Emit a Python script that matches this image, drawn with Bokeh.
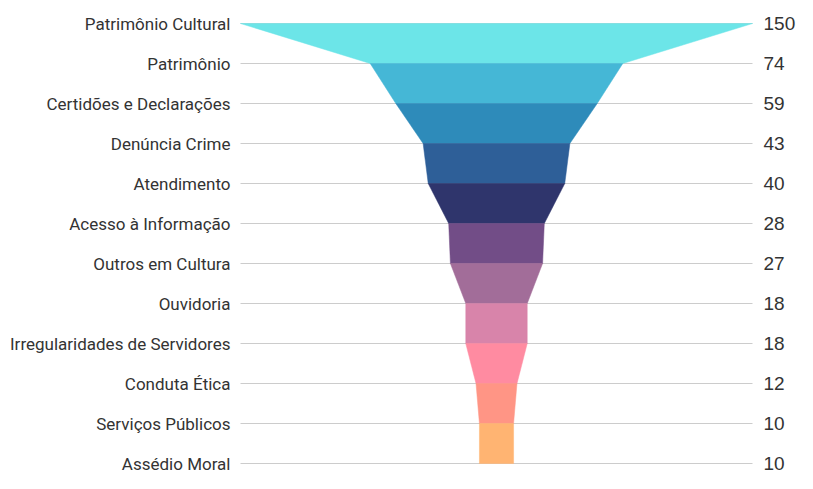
from bokeh.plotting import figure
from bokeh.models import Range1d, ColumnDataSource
from bokeh.core.properties import value
from bokeh.embed import file_html
from bokeh.resources import INLINE

categories = ["Patrimônio Cultural", "Patrimônio", "Certidões e Declarações", "Denúncia Crime",
              "Atendimento", "Acesso à Informação", "Outros em Cultura", "Ouvidoria",
              "Irregularidades de Servidores", "Conduta Ética", "Serviços Públicos", "Assédio Moral"]
values = [150, 74, 59, 43, 40, 28, 27, 18, 18, 12, 10, 10]
colors = ["#6ce5e8", "#45b7d6", "#2e8bba", "#2e5f98", "#2f356c", "#724d87",
          "#a26d99", "#d884aa", "#ff8ba1", "#ff9585", "#ffb472"]

W, H = 797, 473
vmax = max(values)
half_px = 256.0
center_px = 496.0
ppu = 2 * half_px / vmax
top_px, bot_px = 23.0, 463.0
n = len(categories)
row_px = (bot_px - top_px) / (n - 1)

p = figure(width=W, height=H, output_backend="svg", toolbar_location=None,
           x_axis_location=None, y_axis_location=None, min_border=0,
           x_range=Range1d(-center_px / ppu, (W - center_px) / ppu),
           y_range=Range1d((n - 1) + (H - bot_px) / row_px, -top_px / row_px))
p.grid.visible = False
p.outline_line_color = None
p.background_fill_color = "white"

rows = list(range(n))
p.segment(x0=[-vmax / 2] * n, x1=[vmax / 2] * n, y0=rows, y1=rows,
          line_color="#cccccc", line_width=1)

xs, ys = [], []
for i in range(n - 1):
    a, b = values[i] / 2, values[i + 1] / 2
    xs.append([-a, a, b, -b])
    ys.append([i, i, i + 1, i + 1])
p.patches(xs=xs, ys=ys, fill_color=colors, line_color=colors, line_width=0.5)

src = ColumnDataSource(dict(y=rows, cat=categories, val=[str(v) for v in values],
                            xl=[-vmax / 2] * n, xr=[vmax / 2] * n))
p.text(x="xl", y="y", text="cat", source=src, x_offset=-10, text_align="right",
       text_baseline="middle", text_font=value("Roboto"), text_font_size="17px",
       text_color="#333333")
p.text(x="xr", y="y", text="val", source=src, x_offset=11, text_align="left",
       text_baseline="middle", text_font=value("Liberation Sans"), text_font_size="19px",
       text_color="#333333")

open("out.html", "w").write(file_html(p, INLINE))
